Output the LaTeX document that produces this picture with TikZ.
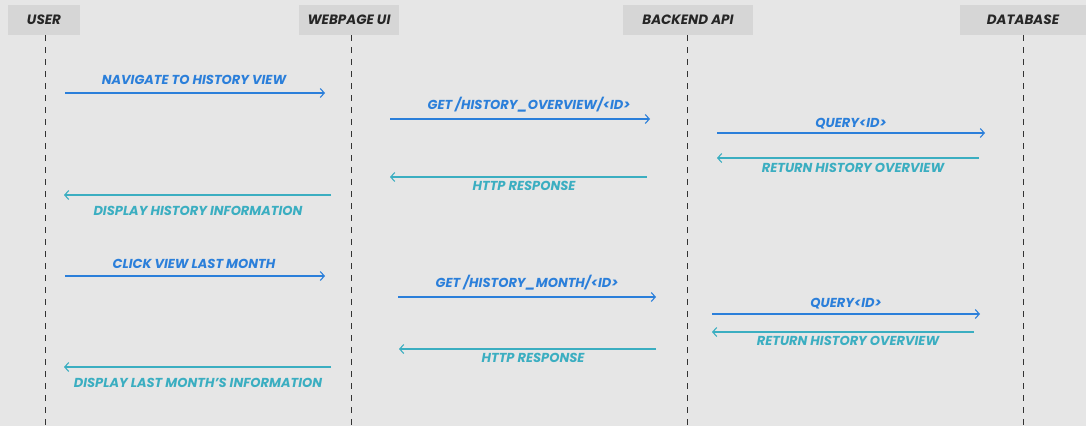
\documentclass[tikz,border=0pt]{standalone}
\usepackage{fontspec}
\setmainfont{Poppins}
\usetikzlibrary{arrows.meta}
\definecolor{bg}{HTML}{E6E6E6}
\definecolor{hdr}{HTML}{D6D6D6}
\definecolor{fwd}{HTML}{2B7FDA}
\definecolor{ret}{HTML}{3BAEC1}
\tikzset{
  hdrbox/.style={fill=hdr, draw=none, minimum height=30pt, inner sep=0pt, font=\bfseries\itshape\fontsize{13.5}{15}\selectfont, text=black!85},
  life/.style={draw=black!80, line width=1pt, dash pattern=on 6pt off 6pt},
  fwdarrow/.style={draw=fwd, line width=1.1pt, -{Straight Barb[length=4pt,width=9pt,line width=1.1pt]}},
  retarrow/.style={draw=ret, line width=1.1pt, -{Straight Barb[length=4pt,width=9pt,line width=1.1pt]}},
  fwdlabel/.style={text=fwd, font=\bfseries\itshape\fontsize{13}{15}\selectfont, inner sep=0pt},
  retlabel/.style={text=ret, font=\bfseries\itshape\fontsize{13}{15}\selectfont, inner sep=0pt}
}
\begin{document}
\begin{tikzpicture}[x=1pt,y=-1pt]
\fill[bg] (0,0) rectangle (1086,426);
\useasboundingbox (0,0) rectangle (1086,426);
% headers
\node[hdrbox, minimum width=72pt] (user) at (44,20) {USER};
\node[hdrbox, minimum width=100pt] (web) at (349,20) {WEBPAGE UI};
\node[hdrbox, minimum width=130pt] (api) at (688,20) {BACKEND API};
\node[hdrbox, minimum width=126pt] (db) at (1023,20) {DATABASE};
% lifelines
\coordinate (userb) at (45,426);
\coordinate (webb) at (351,426);
\coordinate (apib) at (687,426);
\coordinate (dbb) at (1023,426);
\draw[life] (45,35) -- (userb);
\draw[life] (351,35) -- (webb);
\draw[life] (687,35) -- (apib);
\draw[life] (1023,35) -- (dbb);
% message endpoints
\coordinate (a1s) at (65,93);   \coordinate (a1e) at (325,93);
\coordinate (a2s) at (390,119); \coordinate (a2e) at (650,119);
\coordinate (a3s) at (717,133); \coordinate (a3e) at (985,133);
\coordinate (a4s) at (979,158); \coordinate (a4e) at (717,158);
\coordinate (a5s) at (647,177); \coordinate (a5e) at (390,177);
\coordinate (a6s) at (331,195); \coordinate (a6e) at (64,195);
\coordinate (a7s) at (65,276);  \coordinate (a7e) at (325,276);
\coordinate (a8s) at (398,297); \coordinate (a8e) at (656,297);
\coordinate (a9s) at (712,314); \coordinate (a9e) at (980,314);
\coordinate (a10s) at (974,332); \coordinate (a10e) at (712,332);
\coordinate (a11s) at (656,349); \coordinate (a11e) at (399,349);
\coordinate (a12s) at (331,367); \coordinate (a12e) at (64,367);
% arrows
\draw[fwdarrow] (a1s) -- (a1e);
\draw[fwdarrow] (a2s) -- (a2e);
\draw[fwdarrow] (a3s) -- (a3e);
\draw[retarrow] (a4s) -- (a4e);
\draw[retarrow] (a5s) -- (a5e);
\draw[retarrow] (a6s) -- (a6e);
\draw[fwdarrow] (a7s) -- (a7e);
\draw[fwdarrow] (a8s) -- (a8e);
\draw[fwdarrow] (a9s) -- (a9e);
\draw[retarrow] (a10s) -- (a10e);
\draw[retarrow] (a11s) -- (a11e);
\draw[retarrow] (a12s) -- (a12e);
% labels
\node[fwdlabel] (l1) at (194,80) {NAVIGATE TO HISTORY VIEW};
\node[fwdlabel] (l2) at (529,105) {GET /HISTORY\_OVERVIEW/<ID>};
\node[fwdlabel] (l3) at (851,124) {QUERY<ID>};
\node[retlabel] (l4) at (853,168) {RETURN HISTORY OVERVIEW};
\node[retlabel] (l5) at (524,186) {HTTP RESPONSE};
\node[retlabel] (l6) at (198,211) {DISPLAY HISTORY INFORMATION};
\node[fwdlabel] (l7) at (194,264) {CLICK VIEW LAST MONTH};
\node[fwdlabel] (l8) at (527,283) {GET /HISTORY\_MONTH/<ID>};
\node[fwdlabel] (l9) at (846,304) {QUERY<ID>};
\node[retlabel] (l10) at (848,341) {RETURN HISTORY OVERVIEW};
\node[retlabel] (l11) at (533,358) {HTTP RESPONSE};
\node[retlabel] (l12) at (198,383) {DISPLAY LAST MONTH'S INFORMATION};
\end{tikzpicture}
\end{document}
